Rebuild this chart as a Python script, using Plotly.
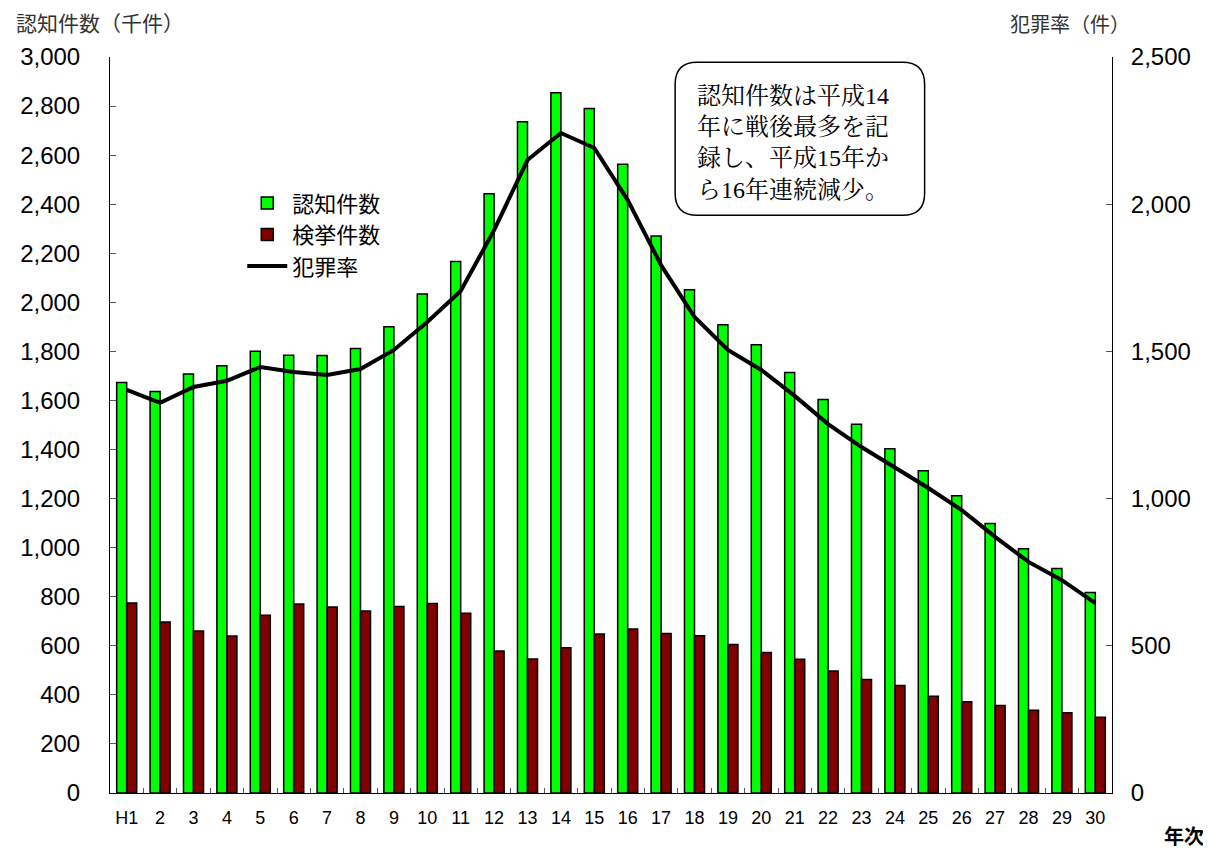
import plotly.graph_objects as go

years = ["H1"] + [str(i) for i in range(2, 31)]
ninchi = [1673, 1637, 1708, 1742, 1801, 1784, 1783, 1812, 1900, 2034,
          2166, 2443, 2736, 2854, 2790, 2563, 2270, 2051, 1909, 1827,
          1714, 1604, 1503, 1403, 1314, 1212, 1099, 996, 915, 817]
kenkyo = [774, 697, 660, 640, 725, 770, 758, 742, 760, 772,
          733, 579, 546, 592, 648, 668, 650, 641, 605, 573,
          545, 497, 463, 438, 394, 372, 357, 337, 327, 309]
hanzai = [1369, 1325, 1379, 1400, 1447, 1430, 1420, 1440, 1505, 1600,
          1705, 1912, 2150, 2242, 2191, 2014, 1793, 1617, 1505, 1437,
          1349, 1253, 1175, 1104, 1036, 961, 870, 785, 723, 645]

font_main = "Liberation Sans, Arial, Noto Sans CJK JP, sans-serif"
cjk = "Noto Sans CJK JP"

fig = go.Figure()
fig.add_trace(go.Bar(x=years, y=ninchi, name="認知件数",
                     marker=dict(color="#00ff00", line=dict(color="black", width=1.5))))
fig.add_trace(go.Bar(x=years, y=kenkyo, name="検挙件数",
                     marker=dict(color="#800000", line=dict(color="black", width=1.5))))
fig.add_trace(go.Scatter(x=years, y=hanzai, name="犯罪率", yaxis="y2", mode="lines",
                         line=dict(color="black", width=4)))

W, H = 1203, 845
L, R, T, B = 102, 99, 49, 60
fig.update_layout(
    width=W, height=H,
    paper_bgcolor="white", plot_bgcolor="white",
    margin=dict(l=L, r=R, t=T, b=B),
    barmode="group", bargap=0.4, bargroupgap=0,
    font=dict(family=font_main, size=18, color="black"),
    showlegend=True,
    legend=dict(x=0.132, y=0.83, xanchor="left", yanchor="top",
                bgcolor="rgba(0,0,0,0)", font=dict(size=22, family=cjk),
                tracegroupgap=0, itemwidth=40),
    xaxis=dict(type="category", showline=True, linecolor="black", linewidth=1,
               ticks="inside", tickson="boundaries", ticklen=5, tickcolor="#555",
               tickfont=dict(size=18, family="Liberation Sans Narrow, Arial Narrow, Liberation Sans"),
               ticklabelstandoff=8, showgrid=False, automargin=False),
    yaxis=dict(range=[0, 3000], dtick=200, tickformat=",", showline=True,
               linecolor="black", linewidth=1, ticks="inside", ticklen=6,
               tickcolor="#555", showgrid=False, zeroline=False, automargin=False,
               tickfont=dict(size=24), ticklabelstandoff=24),
    yaxis2=dict(range=[0, 2500], dtick=500, tickformat=",", overlaying="y",
                side="right", showline=True, linecolor="black", linewidth=1,
                ticks="inside", ticklen=6, tickcolor="#555", showgrid=False,
                zeroline=False, automargin=False, tickfont=dict(size=24),
                ticklabelstandoff=13),
)

pw, ph = W - L - R, H - T - B
# rounded box for the note
x0, x1, y0, y1, r = 0.564, 0.813, 0.785, 0.993, 0.022
ry = r * pw / ph
path = (f"M {x0+r},{y1} L {x1-r},{y1} Q {x1},{y1} {x1},{y1-ry} "
        f"L {x1},{y0+ry} Q {x1},{y0} {x1-r},{y0} L {x0+r},{y0} "
        f"Q {x0},{y0} {x0},{y0+ry} L {x0},{y1-ry} Q {x0},{y1} {x0+r},{y1} Z")
fig.add_shape(type="path", path=path, xref="paper", yref="paper",
              line=dict(color="black", width=1.5), fillcolor="white", layer="above")
fig.add_annotation(xref="paper", yref="paper", x=0.584, y=0.968,
                   xanchor="left", yanchor="top",
                   text="認知件数は平成14<br>年に戦後最多を記<br>録し、平成15年か<br>ら16年連続減少。",
                   showarrow=False, align="left",
                   font=dict(size=24, family="Liberation Serif, Noto Serif CJK JP, Noto Sans CJK JP",
                             color="black"))

fig.add_annotation(xref="paper", yref="paper", x=(6 - L) / pw, y=1.047, xanchor="left",
                   yanchor="middle", text="認知件数（千件）", showarrow=False,
                   font=dict(size=21, family=cjk, color="#333"))
fig.add_annotation(xref="paper", yref="paper", x=1.02, y=1.046, xanchor="right",
                   yanchor="middle", text="犯罪率（件）", showarrow=False,
                   font=dict(size=20, family=cjk, color="#333"))
fig.add_annotation(xref="paper", yref="paper", x=(1198 - L) / pw, y=-0.058, xanchor="right",
                   yanchor="middle", text="<b>年次</b>", showarrow=False,
                   font=dict(size=20, family=cjk, color="black"))

fig.write_html("out.html")
